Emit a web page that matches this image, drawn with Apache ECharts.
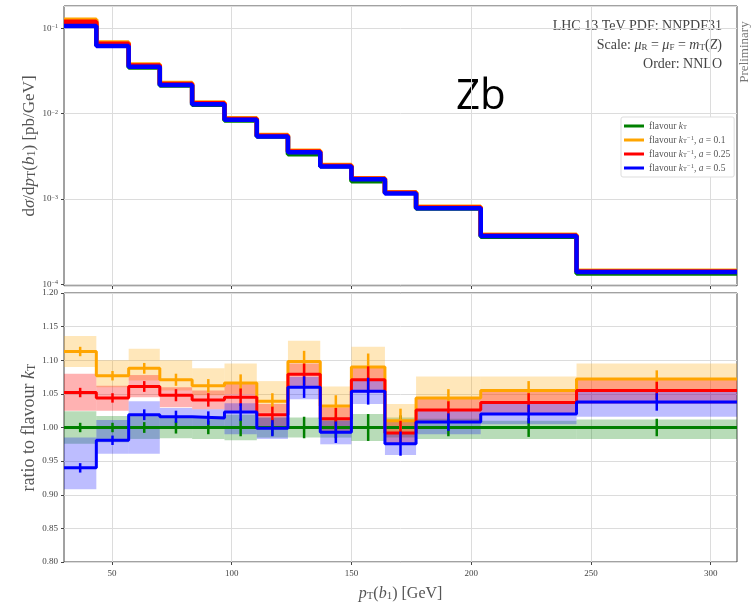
<!DOCTYPE html>
<html>
<head>
<meta charset="utf-8">
<title>Zb - pT(b1)</title>
<script src="https://cdn.jsdelivr.net/npm/echarts@6/dist/echarts.min.js"></script>
<style>
    html, body { margin: 0; padding: 0; background: #fff; }
    #main { width: 751px; height: 603px; }
</style>
</head>
<body>
<div id="main"></div>
<script>
// bin edges pT(b1) [GeV]
var binEdges = [30, 43.5, 57, 70, 83.5, 97, 110.5, 123.5, 137, 150, 164, 177, 204, 244, 311];
var xTickValues = [50, 100, 150, 200, 250, 300];

// upper panel: dsigma/dpT(b1) [pb/GeV]
var xsKt   = [0.113, 0.0632, 0.0346, 0.0213, 0.0127, 0.0083, 0.0054, 0.00333, 0.00242, 0.00161, 0.00119, 0.000774, 0.000360, 0.000134];
var xsA01  = [0.1258, 0.0681, 0.0376, 0.0228, 0.0135, 0.00885, 0.00561, 0.00366, 0.00250, 0.00175, 0.00120, 0.000808, 0.000380, 0.000144];
var xsA025 = [0.1189, 0.0660, 0.0367, 0.0223, 0.0132, 0.00867, 0.00550, 0.00359, 0.00245, 0.00172, 0.00118, 0.000794, 0.000373, 0.000141];
var xsA05  = [0.106, 0.0620, 0.0353, 0.0216, 0.0129, 0.0085, 0.0054, 0.00353, 0.00240, 0.00170, 0.00116, 0.000780, 0.000367, 0.000139];

// lower panel: ratio to flavour kT
var ratioKt   = [1, 1, 1, 1, 1, 1, 1, 1, 1, 1, 1, 1, 1, 1];
var ratioA01  = [1.113, 1.077, 1.088, 1.071, 1.062, 1.066, 1.039, 1.098, 1.032, 1.090, 1.010, 1.044, 1.055, 1.072];
var ratioA025 = [1.052, 1.044, 1.061, 1.048, 1.041, 1.045, 1.019, 1.079, 1.013, 1.071, 0.992, 1.026, 1.037, 1.055];
var ratioA05  = [0.940, 0.981, 1.019, 1.016, 1.014, 1.023, 0.999, 1.060, 0.993, 1.054, 0.976, 1.008, 1.020, 1.038];

// scale bands (low / high)
var bandKtLow    = [0.976, 0.978, 0.983, 0.984, 0.983, 0.981, 0.985, 0.985, 0.985, 0.980, 0.985, 0.983, 0.983, 0.983];
var bandKtHigh   = [1.024, 1.017, 1.017, 1.017, 1.017, 1.019, 1.015, 1.015, 1.015, 1.020, 1.015, 1.013, 1.010, 1.012];
var bandA01Low   = [1.090, 1.060, 1.070, 1.055, 1.048, 1.050, 1.022, 1.080, 1.015, 1.072, 0.993, 1.027, 1.038, 1.055];
var bandA01High  = [1.136, 1.100, 1.117, 1.100, 1.088, 1.095, 1.069, 1.129, 1.061, 1.120, 1.035, 1.076, 1.076, 1.095];
var bandA025Low  = [1.025, 1.025, 1.045, 1.030, 1.027, 1.025, 1.002, 1.060, 0.995, 1.052, 0.975, 1.008, 1.020, 1.035];
var bandA025High = [1.080, 1.062, 1.078, 1.060, 1.055, 1.065, 1.035, 1.095, 1.030, 1.090, 1.010, 1.045, 1.055, 1.072];
var bandA05Low   = [0.908, 0.961, 0.961, 1.002, 0.999, 0.990, 0.983, 1.042, 0.975, 1.035, 0.959, 0.990, 1.005, 1.016];
var bandA05High  = [0.985, 1.011, 1.039, 1.029, 1.027, 1.036, 1.015, 1.075, 1.010, 1.070, 0.992, 1.025, 1.035, 1.055];

// statistical error (half length of the vertical bars)
var statErr = [0.007, 0.007, 0.008, 0.009, 0.010, 0.013, 0.012, 0.016, 0.016, 0.020, 0.018, 0.013, 0.014, 0.013];

var seriesNames = ['kt', 'a01', 'a025', 'a05'];
var seriesColors = ['#008000', '#ffa500', '#ff0000', '#0000ff'];
var bandColors = ['rgba(0,128,0,0.28)', 'rgba(255,165,0,0.27)', 'rgba(255,0,0,0.3)', 'rgba(0,0,255,0.26)'];

var legendText = {
    kt: 'flavour {i|k}{sub|T}',
    a01: 'flavour {i|k}{sub|T}{sup|−1}, {i|a} = 0.1',
    a025: 'flavour {i|k}{sub|T}{sup|−1}, {i|a} = 0.25',
    a05: 'flavour {i|k}{sub|T}{sup|−1}, {i|a} = 0.5'
};

var serif = '"Liberation Serif", "DejaVu Serif", serif';
var textGray = '#444';

var chart = {
    myChart: null,

    init: function () {
        this.myChart = echarts.init(document.getElementById('main'));
        this.myChart.setOption(this.buildOption());
    },

    // [edge, value] pairs for a step line, last value repeated at the last edge
    stepData: function (values) {
        var d = [];
        for (var i = 0; i < values.length; i++) {
            d.push([binEdges[i], values[i]]);
        }
        d.push([binEdges[values.length], values[values.length - 1]]);
        return d;
    },

    bandData: function (low, high) {
        var d = [];
        for (var i = 0; i < low.length; i++) {
            d.push([binEdges[i], binEdges[i + 1], low[i], high[i]]);
        }
        return d;
    },

    errData: function (values) {
        var d = [];
        for (var i = 0; i < values.length; i++) {
            d.push([(binEdges[i] + binEdges[i + 1]) / 2, values[i] - statErr[i], values[i] + statErr[i]]);
        }
        return d;
    },

    renderBand: function (color) {
        return function (params, api) {
            var p0 = api.coord([api.value(0), api.value(3)]);
            var p1 = api.coord([api.value(1), api.value(2)]);
            return {
                type: 'rect',
                shape: { x: p0[0], y: p0[1], width: p1[0] - p0[0], height: p1[1] - p0[1] },
                style: { fill: color }
            };
        };
    },

    renderErr: function (color) {
        return function (params, api) {
            var p0 = api.coord([api.value(0), api.value(1)]);
            var p1 = api.coord([api.value(0), api.value(2)]);
            return {
                type: 'line',
                shape: { x1: p0[0], y1: p0[1], x2: p1[0], y2: p1[1] },
                style: { stroke: color, lineWidth: 2.5 }
            };
        };
    },

    nameStyle: function (size) {
        return {
            fontFamily: serif, fontSize: size, color: '#555',
            rich: {
                g: { fontFamily: serif, fontStyle: 'italic', fontSize: size, color: '#555' },
                i: { fontFamily: serif, fontStyle: 'italic', fontSize: size, color: '#555' },
                sub: { fontFamily: serif, fontSize: Math.round(size * 0.68), color: '#555', verticalAlign: 'bottom' }
            }
        };
    },

    buildOption: function () {
        var $this = this;
        var xsList = [xsKt, xsA01, xsA025, xsA05];
        var ratioList = [ratioKt, ratioA01, ratioA025, ratioA05];
        var lowList = [bandKtLow, bandA01Low, bandA025Low, bandA05Low];
        var highList = [bandKtHigh, bandA01High, bandA025High, bandA05High];

        var series = [];
        for (var i = 0; i < 4; i++) {
            series.push({
                name: seriesNames[i],
                type: 'line',
                step: 'end',
                xAxisIndex: 0,
                yAxisIndex: 0,
                data: $this.stepData(xsList[i]),
                showSymbol: false,
                lineStyle: { color: seriesColors[i], width: 4.5 },
                itemStyle: { color: seriesColors[i] },
                z: 3 + i
            });
            series.push({
                type: 'custom',
                xAxisIndex: 1,
                yAxisIndex: 1,
                data: $this.bandData(lowList[i], highList[i]),
                encode: { x: [0, 1], y: [2, 3] },
                renderItem: $this.renderBand(bandColors[i]),
                silent: true,
                z: 1
            });
            series.push({
                type: 'line',
                step: 'end',
                xAxisIndex: 1,
                yAxisIndex: 1,
                data: $this.stepData(ratioList[i]),
                showSymbol: false,
                lineStyle: { color: seriesColors[i], width: 3 },
                z: 3 + i
            });
            series.push({
                type: 'custom',
                xAxisIndex: 1,
                yAxisIndex: 1,
                data: $this.errData(ratioList[i]),
                encode: { x: 0, y: [1, 2] },
                renderItem: $this.renderErr(seriesColors[i]),
                silent: true,
                z: 3 + i
            });
        }

        var supMap = { '-1': '−1', '-2': '−2', '-3': '−3', '-4': '−4' };

        var xAxisBase = {
            type: 'value',
            min: binEdges[0],
            max: binEdges[binEdges.length - 1],
            axisLine: { show: false },
            axisTick: { show: true, length: 3, customValues: xTickValues, lineStyle: { color: '#444' } },
            splitLine: { show: true, lineStyle: { color: '#dcdcdc', width: 1 } }
        };

        return {
            animation: false,
            backgroundColor: '#fff',
            grid: [
                { left: 64, right: 14, top: 6, height: 280, show: true, borderColor: '#444', borderWidth: 1 },
                { left: 64, right: 14, top: 293, height: 274, show: true, borderColor: '#444', borderWidth: 1 }
            ],
            legend: {
                data: seriesNames,
                orient: 'vertical',
                left: 621,
                top: 117,
                itemWidth: 20,
                itemHeight: 3,
                itemGap: 4,
                icon: 'rect',
                padding: [4, 4, 4, 3],
                borderColor: '#ddd',
                borderWidth: 1,
                borderRadius: 2,
                backgroundColor: '#fff',
                formatter: function (name) { return legendText[name]; },
                textStyle: {
                    fontFamily: serif, fontSize: 9.5, color: '#555',
                    rich: {
                        i: { fontFamily: serif, fontStyle: 'italic', fontSize: 9.5, color: '#555' },
                        sub: { fontFamily: serif, fontSize: 6.5, color: '#555', verticalAlign: 'bottom' },
                        sup: { fontFamily: serif, fontSize: 6.5, color: '#555', verticalAlign: 'top' }
                    }
                }
            },
            xAxis: [
                Object.assign({}, xAxisBase, {
                    gridIndex: 0,
                    axisLabel: { show: false }
                }),
                Object.assign({}, xAxisBase, {
                    gridIndex: 1,
                    axisLabel: { show: true, customValues: xTickValues, fontFamily: serif, fontSize: 9, color: textGray, margin: 7 },
                    name: '{i|p}{sub|T}({i|b}{sub|1}) [GeV]',
                    nameLocation: 'middle',
                    nameGap: 24,
                    nameMoveOverlap: false,
                    nameTextStyle: $this.nameStyle(16)
                })
            ],
            yAxis: [
                {
                    type: 'log',
                    gridIndex: 0,
                    logBase: 10,
                    min: 9.55e-5,
                    max: 0.1824,
                    axisLine: { show: false },
                    axisTick: { show: true, length: 3, lineStyle: { color: '#444' } },
                    splitLine: { show: true, lineStyle: { color: '#dcdcdc' } },
                    axisLabel: {
                        showMinLabel: false,
                        showMaxLabel: false,
                        margin: 6,
                        formatter: function (v) {
                            var e = Math.round(Math.log(v) / Math.LN10);
                            return '{b|10}{s|' + (supMap[String(e)] || e) + '}';
                        },
                        rich: {
                            b: { fontFamily: serif, fontSize: 9, color: textGray },
                            s: { fontFamily: serif, fontSize: 6, color: textGray, verticalAlign: 'top' }
                        }
                    },
                    name: 'd{g|σ}/d{i|p}{sub|T}({i|b}{sub|1}) [pb/GeV]',
                    nameLocation: 'middle',
                    nameGap: 26,
                    nameMoveOverlap: false,
                    nameTextStyle: $this.nameStyle(17)
                },
                {
                    type: 'value',
                    gridIndex: 1,
                    min: 0.8,
                    max: 1.2,
                    interval: 0.05,
                    axisLine: { show: false },
                    axisTick: { show: true, length: 3, lineStyle: { color: '#444' } },
                    splitLine: { show: true, lineStyle: { color: '#dcdcdc' } },
                    axisLabel: {
                        fontFamily: serif, fontSize: 9, color: textGray, margin: 6,
                        formatter: function (v) { return v.toFixed(2); }
                    },
                    name: 'ratio to flavour {i|k}{sub|T}',
                    nameLocation: 'middle',
                    nameGap: 26,
                    nameMoveOverlap: false,
                    nameTextStyle: $this.nameStyle(18)
                }
            ],
            graphic: [
                {
                    type: 'text', right: 29, top: 19,
                    style: { text: 'LHC 13 TeV PDF: NNPDF31', fontFamily: serif, fontSize: 14, fill: '#444' }
                },
                {
                    type: 'text', right: 29, top: 38,
                    style: {
                        text: 'Scale: {i|μ}{sub|R} = {i|μ}{sub|F} = {i|m}{sub|T}({i|Z})',
                        fontFamily: serif, fontSize: 14, fill: '#444',
                        rich: {
                            i: { fontFamily: serif, fontStyle: 'italic', fontSize: 14, fill: '#444' },
                            sub: { fontFamily: serif, fontSize: 9, fill: '#444', verticalAlign: 'bottom' }
                        }
                    }
                },
                {
                    type: 'text', right: 29, top: 57,
                    style: { text: 'Order: NNLO', fontFamily: serif, fontSize: 14, fill: '#444' }
                },
                {
                    type: 'text', x: 745, y: 52, rotation: Math.PI / 2,
                    style: { text: 'Preliminary', fontFamily: serif, fontSize: 13, fill: '#777', align: 'center', verticalAlign: 'middle' }
                },
                {
                    type: 'text', left: 456, top: 76,
                    style: { text: 'Zb', fontFamily: '"Open Sans", "Liberation Sans", sans-serif', fontSize: 42, fill: '#000' }
                }
            ],
            series: series
        };
    }
};

chart.init();
</script>
</body>
</html>
